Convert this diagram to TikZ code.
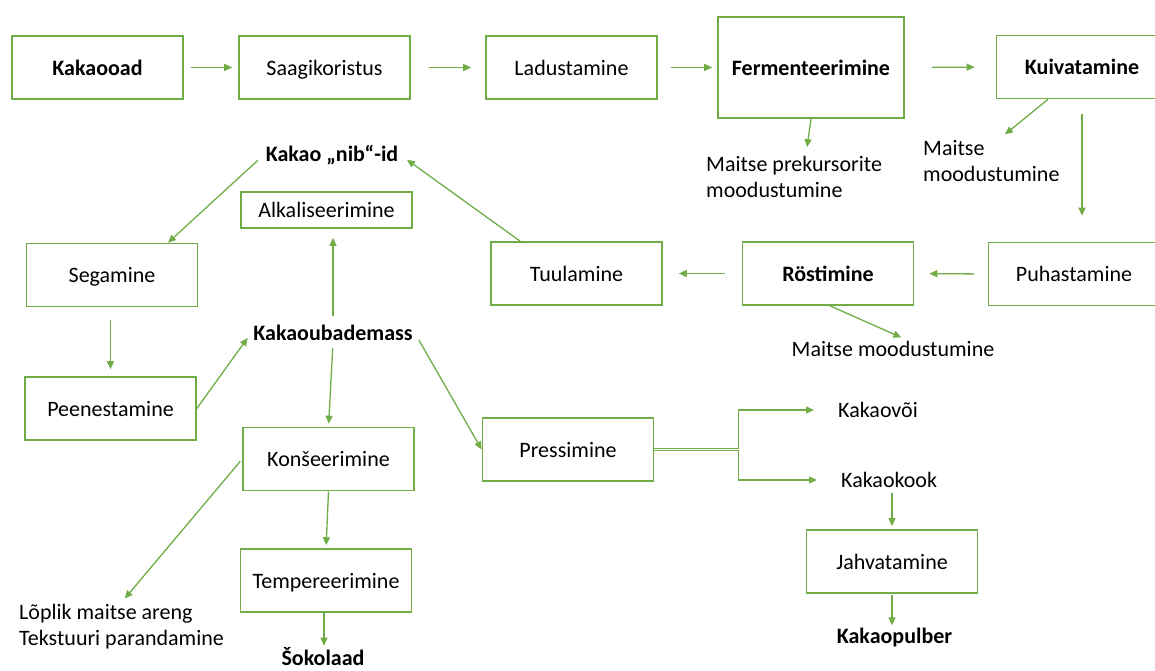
\documentclass[tikz,border=0pt]{standalone}
\usepackage{fontspec}
\setmainfont{Carlito}
\usetikzlibrary{arrows.meta}
\definecolor{flowgreen}{RGB}{112,173,71}
\begin{document}
\begin{tikzpicture}[
  x=1pt, y=-1pt,
  font=\fontsize{22}{26}\selectfont,
  arr/.style={-{Triangle[length=8pt,width=7pt]}, flowgreen, line width=1.3pt},
  box/.style={draw=flowgreen, line width=1.6pt, fill=white,
              minimum width=171pt, minimum height=63pt, inner sep=2pt,
              text height=16pt, text depth=1pt},
  lbl/.style={inner sep=2pt, align=left},
  bld/.style={font=\fontsize{22}{26}\selectfont\bfseries, inner sep=2pt},
]
\clip (0,0) rectangle (1155,670);

%% ── top row ────────────────────────────────────────────────────────
\node[box, font=\fontsize{22}{26}\selectfont\bfseries] (kakaooad) at (97.5,67.5) {Kakaooad};
\node[box] (saagi) at (324.5,67.5) {Saagikoristus};
\node[box] (ladu)  at (571.5,67.5) {Ladustamine};
\node[box, minimum width=186pt, minimum height=101pt,
      font=\fontsize{22}{26}\selectfont\bfseries] (ferm) at (811,67.5) {Fermenteerimine};
\node[box, font=\fontsize{22}{26}\selectfont\bfseries] (kuiv) at (1082,67) {Kuivatamine};

\node[lbl, anchor=west] (mprek) at (704,177) {Maitse prekursorite\\moodustumine};
\node[lbl, anchor=west] (mmood) at (921,161) {Maitse\\moodustumine};

\draw[arr, shorten <=7pt, shorten >=6pt]   (kakaooad.east) -- (saagi.west);
\draw[arr, shorten <=18pt, shorten >=14pt] (saagi.east) -- (ladu.west);
\draw[arr, shorten <=13pt, shorten >=5pt]  (ladu.east) -- (ferm.west);
\draw[arr, shorten <=27pt, shorten >=21pt] (ferm.east) -- (kuiv.west);
\draw[arr, shorten >=7pt] (ferm.south) -- ([xshift=12pt]mprek.north);
\draw[arr, shorten >=6pt] ([xshift=-34pt]kuiv.south) -- ([xshift=9pt]mmood.north);

%% ── second row (right to left) ────────────────────────────────────
\node[box] (puhast) at (1074,274) {Puhastamine};
\node[box, font=\fontsize{22}{26}\selectfont\bfseries] (rost) at (828,273.5) {Röstimine};
\node[box] (tuul) at (576.5,273.5) {Tuulamine};
\node[lbl] (rmood) at (893,349) {Maitse moodustumine};

\draw[arr, shorten <=15pt, shorten >=26pt] (kuiv.south) -- (kuiv.south |- puhast.north);
\draw[arr, shorten <=13pt, shorten >=15pt] (puhast.west) -- (rost.east);
\draw[arr, shorten <=17pt, shorten >=16pt] (rost.west) -- (tuul.east);
\draw[arr, shorten >=4pt] ([xshift=2pt]rost.south) -- ([xshift=12pt]rmood.north);

%% ── left column: nibs and mass ────────────────────────────────────
\node[bld] (nib) at (332,155) {Kakao „nib“-id};
\node[box, minimum height=36pt] (alkal) at (326.5,210) {Alkaliseerimine};
\node[box] (segam) at (112,275) {Segamine};
\node[box] (peen) at (110.5,408.5) {Peenestamine};
\node[bld] (kmass) at (333,333) {Kakaoubademass};

\draw[arr, shorten >=8pt] ([xshift=30pt]tuul.north west) -- (nib.east);
\draw[arr, shorten <=8pt] (nib.west) -- ([xshift=56pt]segam.north);
\draw[arr, shorten <=13pt, shorten >=7pt] (peen.north |- segam.south) -- (peen.north);
\draw[arr, shorten >=6pt] (peen.east) -- (kmass.west);
\draw[arr, shorten <=7pt, shorten >=9pt] (kmass.north) -- (kmass.north |- alkal.south);

%% ── chocolate branch ──────────────────────────────────────────────
\node[box] (konse) at (328.5,459) {Konšeerimine};
\node[box] (temper) at (326,580.5) {Tempereerimine};
\node[bld] (sokol) at (323,657) {Šokolaad};
\node[lbl, anchor=west] (loplik) at (17,627) {Lõplik maitse areng\\Tekstuuri parandamine};

\draw[arr, shorten <=5pt, shorten >=3pt] (kmass.south) -- (konse.north);
\draw[arr, shorten <=3pt, shorten >=5pt] (konse.west) -- (loplik.north);
\draw[arr, shorten >=3pt] (konse.south) -- (temper.north);
\draw[arr] ([xshift=-2pt]temper.south) -- ([xshift=-2pt]temper.south |- sokol.north);

%% ── pressing branch ───────────────────────────────────────────────
\node[box] (press) at (568,449.5) {Pressimine};
\node[lbl, anchor=west] (kvoi)  at (836,410) {Kakaovõi};
\node[lbl, anchor=west] (kkook) at (839,480) {Kakaokook};
\node[box] (jahv) at (892,561.5) {Jahvatamine};
\node[bld] (kpulber) at (894.5,637) {Kakaopulber};

\draw[arr, shorten <=8pt] (kmass.east) -- (press.west);
\draw[arr, shorten >=22pt] ([yshift=1pt]press.east) -- ++(84,0) |- (kvoi.west);
\draw[arr, shorten >=22pt] ([yshift=-1pt]press.east) -- ++(84,0) |- (kkook.west);
\draw[arr, shorten <=3pt, shorten >=3pt] (kkook.south -| jahv.north) -- (jahv.north);
\draw[arr, shorten <=1pt] (jahv.south) -- (jahv.south |- kpulber.north);

\end{tikzpicture}
\end{document}
